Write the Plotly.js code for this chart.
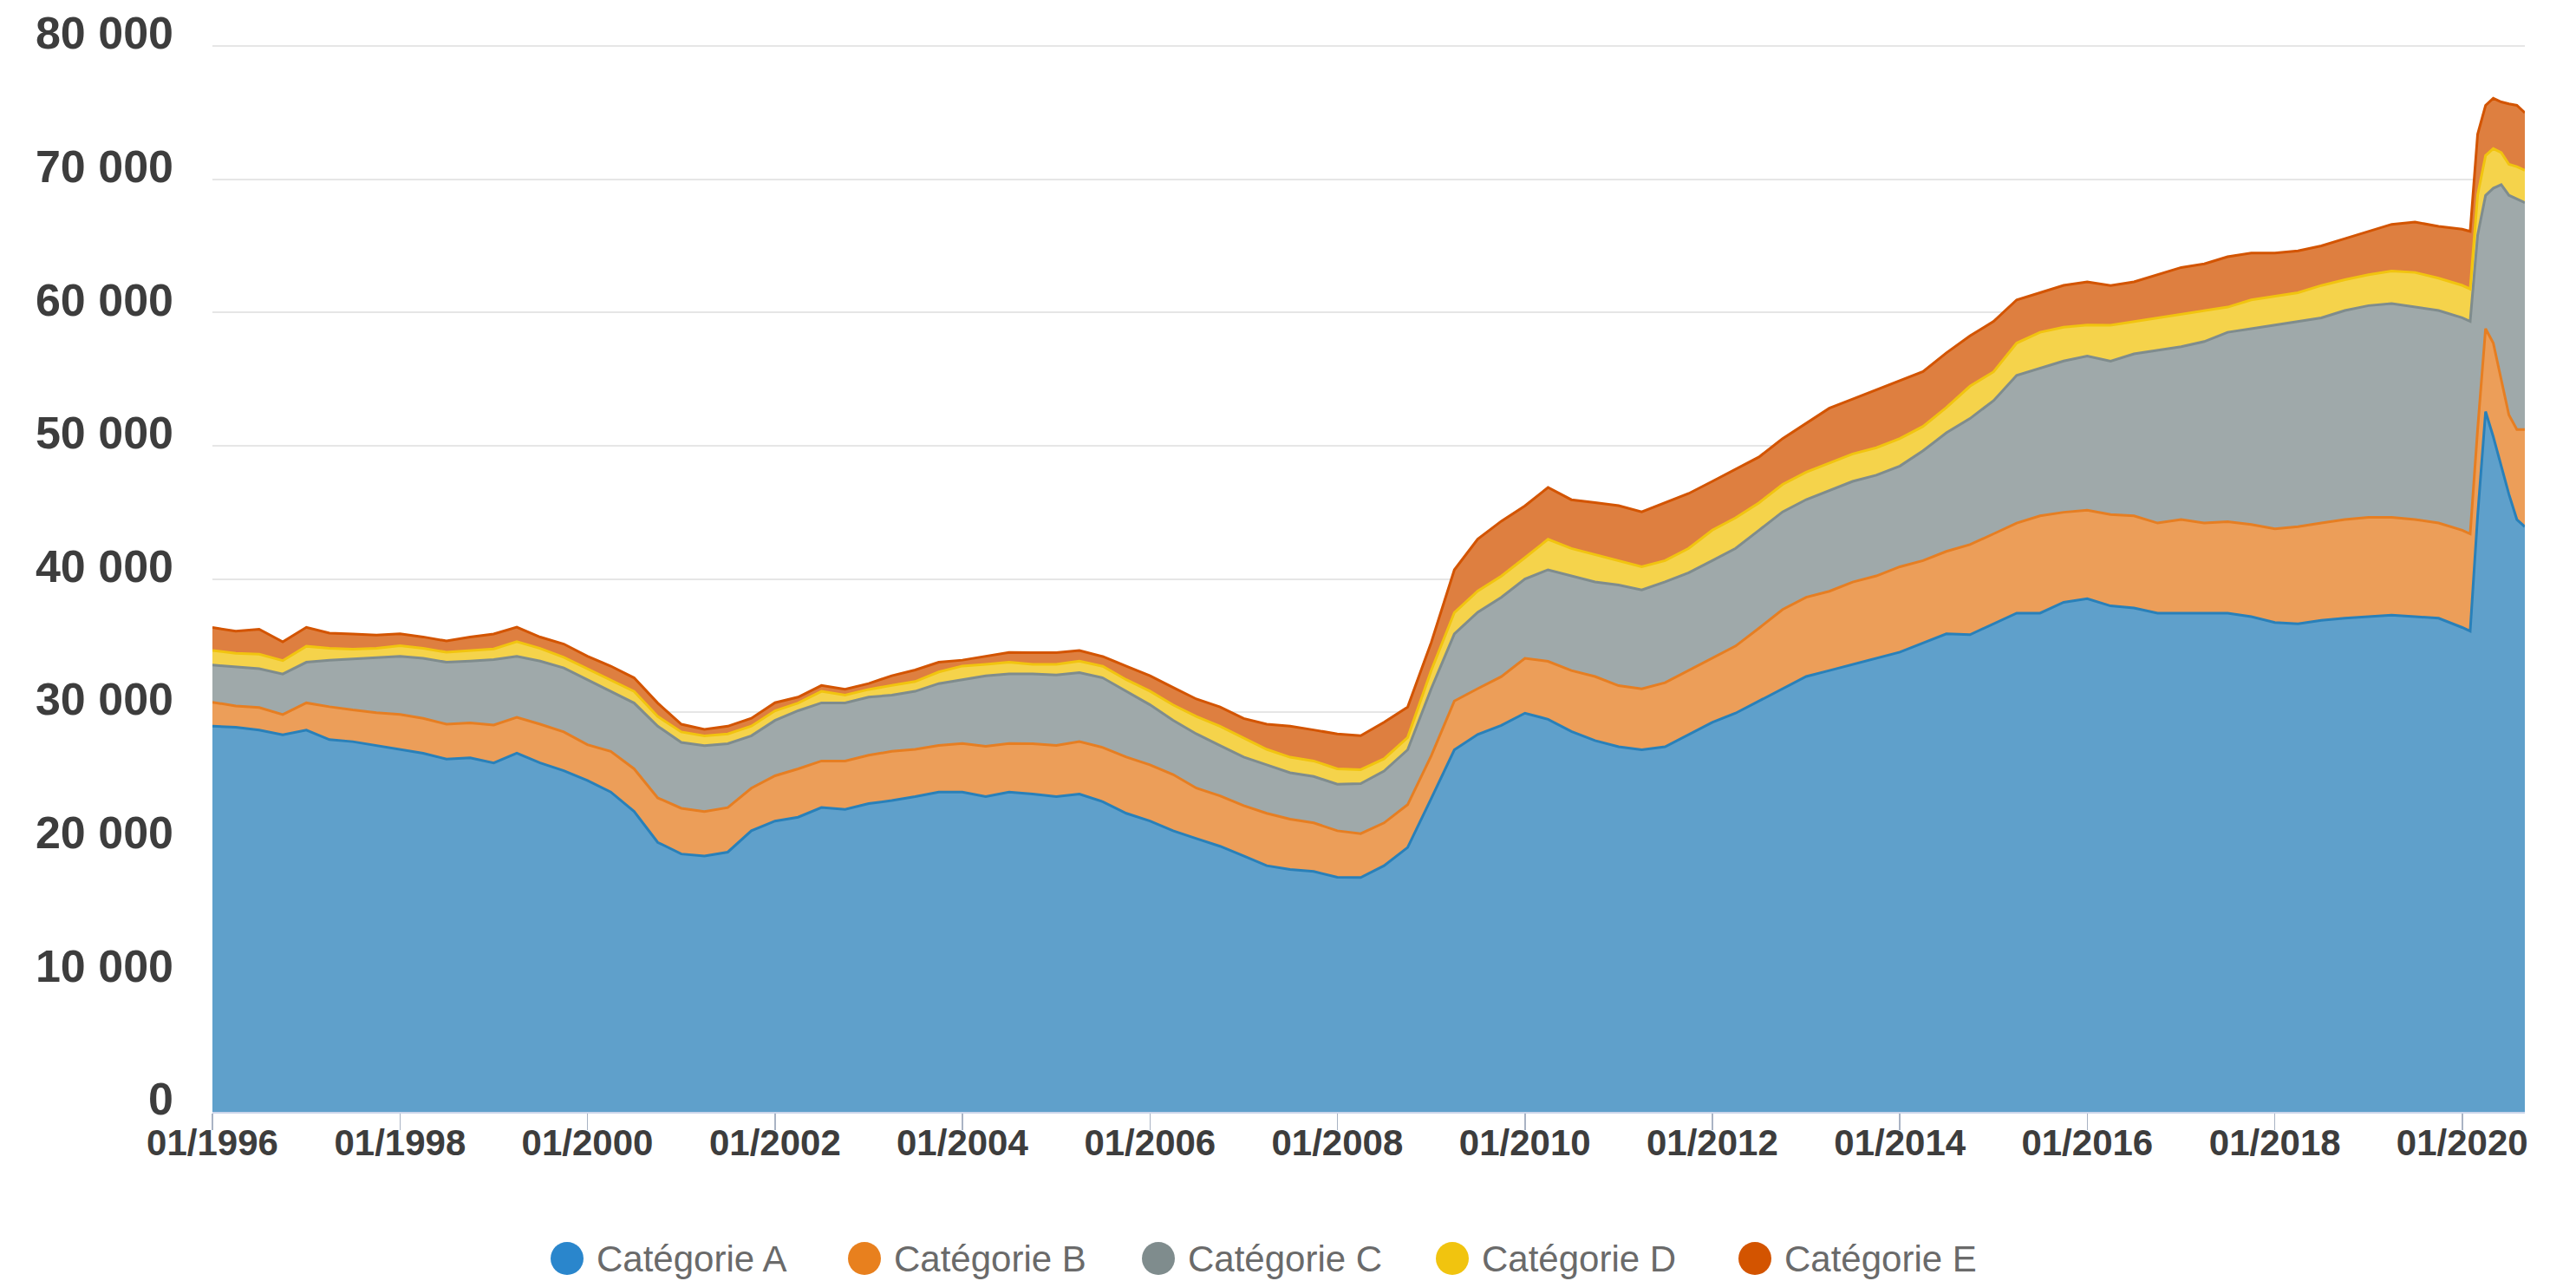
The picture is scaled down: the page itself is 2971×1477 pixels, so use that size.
<!DOCTYPE html>
<html>
<head>
<meta charset="utf-8">
<script src="https://cdn.plot.ly/plotly-3.0.1.min.js"></script>
<style>
  html, body { margin: 0; padding: 0; background: #ffffff; }
  #chart { width: 2971px; height: 1477px; }
</style>
</head>
<body>
<div id="chart"></div>
<script>
// ---------- DATA ----------
const dates = [
  "1996-01-01","1996-04-01","1996-07-01","1996-10-01","1997-01-01","1997-04-01","1997-07-01","1997-10-01",
  "1998-01-01","1998-04-01","1998-07-01","1998-10-01","1999-01-01","1999-04-01","1999-07-01","1999-10-01",
  "2000-01-01","2000-04-01","2000-07-01","2000-10-01","2001-01-01","2001-04-01","2001-07-01","2001-10-01",
  "2002-01-01","2002-04-01","2002-07-01","2002-10-01","2003-01-01","2003-04-01","2003-07-01","2003-10-01",
  "2004-01-01","2004-04-01","2004-07-01","2004-10-01","2005-01-01","2005-04-01","2005-07-01","2005-10-01",
  "2006-01-01","2006-04-01","2006-07-01","2006-10-01","2007-01-01","2007-04-01","2007-07-01","2007-10-01",
  "2008-01-01","2008-04-01","2008-07-01","2008-10-01","2009-01-01","2009-04-01","2009-07-01","2009-10-01",
  "2010-01-01","2010-04-01","2010-07-01","2010-10-01","2011-01-01","2011-04-01","2011-07-01","2011-10-01",
  "2012-01-01","2012-04-01","2012-07-01","2012-10-01","2013-01-01","2013-04-01","2013-07-01","2013-10-01",
  "2014-01-01","2014-04-01","2014-07-01","2014-10-01","2015-01-01","2015-04-01","2015-07-01","2015-10-01",
  "2016-01-01","2016-04-01","2016-07-01","2016-10-01","2017-01-01","2017-04-01","2017-07-01","2017-10-01",
  "2018-01-01","2018-04-01","2018-07-01","2018-10-01","2019-01-01","2019-04-01","2019-07-01","2019-10-01",
  "2020-01-01","2020-02-01","2020-03-01","2020-04-01","2020-05-01","2020-06-01","2020-07-01","2020-08-01","2020-09-01"
];

const seriesNames = ["Catégorie A", "Catégorie B", "Catégorie C", "Catégorie D", "Catégorie E"];

const catA = [
  28950,28870,28660,28310,28660,27940,27790,27500,27210,26920,26480,26570,26190,26920,26190,25610,24880,24010,22550,20230,19360,19210,19500,21100,
  21830,22120,22850,22700,23140,23370,23660,24010,24010,23660,24010,23860,23660,23860,23280,22410,21830,21100,20520,19940,19210,18480,18190,18050,17610,
  17590,18480,19850,23520,27180,28330,29010,29930,29470,28550,27870,27410,27180,27410,28330,29240,29930,30840,31760,32680,33130,33590,34050,34510,35200,
  35880,
  35820,36630,37440,37440,38250,38520,37980,37820,37440,37440,37440,37440,37170,36740,36630,36900,37060,37170,37280,37170,37060,
  36360,36090,44730,52570,50680,48520,46360,44460,43920
];
const catB = [
  1800,1600,1690,1510,2040,2470,2380,2470,2620,2620,2620,2620,2850,2700,2910,2910,2680,3050,3200,3340,3430,3340,3340,3200,
  3400,3630,3490,3640,3630,3690,3550,3490,3640,3780,3640,3780,3840,3930,4070,4220,4220,4220,3780,3780,3780,3930,3780,3640,3490,
  3300,3210,3210,3210,3660,3440,3660,4120,4350,4580,4810,4580,4580,4810,4810,4810,5040,5470,5950,5950,5950,6180,6180,6410,6180,
  6190,
  6760,6760,6760,7300,6760,6650,6860,6920,6760,7030,6760,6860,6920,7030,7300,7300,7410,7460,7350,7300,7140,
  7300,7300,6490,6220,7030,6490,5950,6760,7300
];
const catC = [
  2790,2910,2910,3050,3050,3490,3810,4130,4360,4510,4650,4650,4910,4580,4740,4800,4890,4510,4940,5380,4940,4940,4800,3930,
  4150,4360,4360,4360,4360,4220,4360,4650,4800,5290,5230,5230,5290,5180,5230,4940,4510,4070,4070,3780,3640,3640,3490,3490,3490,
  3750,3890,4120,5040,5040,5730,5950,5950,6870,7100,7100,7560,7420,7560,7330,7330,7330,7350,7330,7330,7560,7560,7560,7560,8240,
  8900,
  9460,10000,11080,11080,11350,11570,11510,12160,12970,12970,13620,14220,14700,15300,15400,15400,15680,15890,16050,15950,15950,
  15950,15950,14590,10000,11620,14590,16490,17300,17030
];
const catD = [
  1100,1050,1100,1000,1200,900,750,700,800,750,750,800,800,1100,950,800,800,870,870,730,790,730,730,730,
  730,580,870,580,580,730,730,870,1020,870,870,730,810,870,870,870,1020,1160,1310,1450,1450,1160,1160,1160,1160,
  1050,920,920,1370,1600,1600,1600,1600,2290,2060,2060,1830,1740,1600,1830,2290,2290,2060,2060,2060,2060,2060,2060,2060,1830,
  1900,
  2430,2160,2430,2700,2540,2320,2700,2430,2430,2430,2320,1890,2160,2160,2160,2430,2320,2320,2430,2590,2430,
  2430,2430,3000,3000,2970,2400,2320,2430,2430
];
const catE = [
  1720,1650,1870,1410,1420,1140,1140,990,890,850,850,1000,1120,1080,850,1000,950,1020,1020,1010,580,490,580,580,
  600,440,440,440,440,730,870,730,440,580,730,870,870,790,730,1020,1160,1310,1310,1450,1450,1890,2330,2330,2620,
  2550,2750,2290,2100,3210,3890,4120,3890,3890,3660,3890,4120,4120,4350,4120,3660,3660,3440,3440,3660,4120,4120,4350,4350,4120,
  4100,
  3780,3780,3240,2970,3140,3240,2970,2970,3240,3510,3510,3780,3510,3240,3140,2970,3080,3240,3510,3780,3890,
  4220,4320,4570,3760,3780,3810,4540,4600,4320
];

const xTickVals = ["1996-01-01","1998-01-01","2000-01-01","2002-01-01","2004-01-01","2006-01-01",
                   "2008-01-01","2010-01-01","2012-01-01","2014-01-01","2016-01-01","2018-01-01","2020-01-01"];
const xTickText = ["01/1996","01/1998","01/2000","01/2002","01/2004","01/2006",
                   "01/2008","01/2010","01/2012","01/2014","01/2016","01/2018","01/2020"];
const yTickVals = [0,10000,20000,30000,40000,50000,60000,70000,80000];
const yTickText = ["0","10 000","20 000","30 000","40 000","50 000","60 000","70 000","80 000"];

// ---------- STYLE ----------
const lineColors = ["#2980b9", "#e67e22", "#7f8c8d", "#f1c40f", "#d35400"];
const fillColors = ["#5fa0cb", "#ec9e59", "#9fa9aa", "#f5d34b", "#de7f40"];
const legendColors = ["#2a86cc", "#e8801e", "#7f8c8d", "#f1c40f", "#d35400"];
const allSeries = [catA, catB, catC, catD, catE];

const W = 2971, H = 1477;
const plotL = 245, plotR = 2912, plotT = 47, plotB = 1282;

const traces = allSeries.map((vals, i) => ({
  x: dates,
  y: vals,
  type: "scatter",
  mode: "lines",
  stackgroup: "one",
  name: seriesNames[i],
  line: { color: lineColors[i], width: 3, shape: "linear" },
  fillcolor: fillColors[i],
  hoverinfo: "skip",
  showlegend: false
}));

// custom legend (large circles like the reference)
function px2paperX(px) { return (px - plotL) / (plotR - plotL); }
function px2paperY(py) { return (plotB - py) / (plotB - plotT); }
const legendCenters = [654, 997, 1336, 1675, 2024];
const legendY = 1451;
const shapes = legendCenters.map((cx, i) => ({
  type: "circle",
  xref: "paper", yref: "paper",
  xsizemode: "pixel", ysizemode: "pixel",
  xanchor: px2paperX(cx), yanchor: px2paperY(legendY),
  x0: -19, x1: 19, y0: -19, y1: 19,
  fillcolor: legendColors[i],
  line: { width: 0 }
}));
const annotations = legendCenters.map((cx, i) => ({
  xref: "paper", yref: "paper",
  x: px2paperX(cx + 32), y: px2paperY(legendY),
  xanchor: "left", yanchor: "middle",
  text: seriesNames[i],
  showarrow: false,
  font: { family: "Liberation Sans, Arial, Helvetica, sans-serif", size: 42, color: "#6a6a6a" }
}));

const layout = {
  width: W, height: H,
  margin: { l: plotL, r: W - plotR, t: plotT, b: H - plotB, pad: 0 },
  paper_bgcolor: "#ffffff",
  plot_bgcolor: "#ffffff",
  showlegend: false,
  xaxis: {
    type: "date",
    range: ["1996-01-01", "2020-09-01"],
    tickmode: "array",
    tickvals: xTickVals,
    ticktext: xTickText,
    ticks: "outside",
    ticklen: 19,
    tickwidth: 1.5,
    tickcolor: "#a9b3c4",
    ticklabelstandoff: -21,
    showgrid: false,
    showline: true,
    linecolor: "#ccd6eb",
    linewidth: 2,
    zeroline: false,
    tickfont: { family: "Liberation Sans, Arial, Helvetica, sans-serif", size: 42, color: "#3d3d3d", weight: 700 }
  },
  yaxis: {
    range: [0, 80400],
    tickmode: "array",
    tickvals: yTickVals,
    ticktext: yTickText,
    ticks: "",
    showgrid: true,
    gridcolor: "#e6e6e6",
    gridwidth: 2,
    zeroline: false,
    showline: false,
    ticklabelstandoff: 44,
    ticklabelshift: -15,
    tickfont: { family: "Liberation Sans, Arial, Helvetica, sans-serif", size: 52, color: "#3d3d3d", weight: 700 }
  },
  shapes: shapes,
  annotations: annotations
};

Plotly.newPlot("chart", traces, layout, { staticPlot: true, displayModeBar: false });
</script>
</body>
</html>
